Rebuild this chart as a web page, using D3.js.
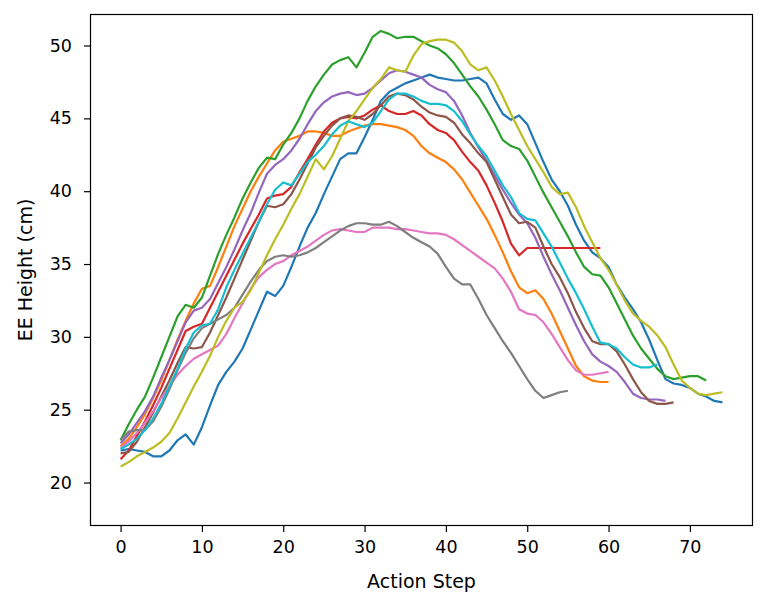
<!DOCTYPE html>
<html><head><meta charset="utf-8">
<script src="https://cdn.jsdelivr.net/npm/d3@7/dist/d3.min.js"></script>
<style>body{margin:0;background:#fff}svg{display:block}text{font-family:"DejaVu Sans",sans-serif;fill:#000}</style>
</head><body>
<script>
const xTicks = [0,10,20,30,40,50,60,70];
const yTicks = [20,25,30,35,40,45,50];
const colors = ["#1f77b4","#ff7f0e","#2ca02c","#d62728","#9467bd","#8c564b","#e377c2","#7f7f7f","#bcbd22","#17becf"];

const blue = [22.2,22.3,22.2,22.1,21.8,21.8,22.2,22.9,23.3,22.6,23.8,25.3,26.7,27.6,28.3,29.2,30.5,31.8,33.1,32.8,33.5,34.8,36.2,37.5,38.5,39.8,41.0,42.2,42.6,42.6,43.7,44.9,46.2,46.8,47.1,47.4,47.6,47.8,48.0,47.8,47.7,47.6,47.6,47.7,47.8,47.4,46.3,45.3,44.9,45.2,44.6,43.3,42.0,40.8,40.0,39.0,37.7,36.6,35.8,35.4,34.8,33.6,32.7,31.9,31.0,29.8,28.4,27.1,26.8,26.7,26.5,26.1,25.9,25.6,25.5];
const orange = [22.5,23.0,23.8,24.7,25.8,27.0,28.4,29.8,31.1,32.3,33.3,33.5,34.8,36.2,37.6,38.8,40.0,41.0,41.9,42.8,43.4,43.6,43.8,44.1,44.1,44.0,43.8,43.8,44.1,44.3,44.5,44.6,44.6,44.5,44.4,44.2,43.8,43.1,42.6,42.3,42.0,41.5,40.8,39.9,39.0,38.1,37.0,35.8,34.5,33.4,33.0,33.2,32.6,31.6,30.4,29.2,28.0,27.3,27.0,26.9,26.9];
const green = [22.9,24.0,25.0,25.9,27.2,28.6,30.0,31.4,32.2,32.0,32.7,34.2,35.7,37.0,38.2,39.5,40.6,41.6,42.3,42.2,43.2,44.0,45.0,46.2,47.2,48.0,48.7,49.0,49.2,48.5,49.5,50.6,51.0,50.8,50.5,50.6,50.6,50.3,50.0,49.8,49.4,48.8,48.0,47.2,46.5,45.6,44.6,43.5,43.1,42.9,42.1,41.0,39.9,38.9,37.9,36.9,35.8,34.8,34.3,34.2,33.4,32.3,31.2,30.1,29.2,28.5,27.8,27.3,27.1,27.2,27.3,27.3,27.0];
const red = [21.6,22.2,23.2,24.2,25.3,26.5,27.8,29.1,30.4,30.7,30.9,32.0,33.1,34.2,35.3,36.4,37.4,38.4,39.5,39.7,39.8,40.3,41.3,42.2,43.2,44.1,44.7,45.0,45.1,45.0,45.2,45.6,45.9,45.5,45.3,45.3,45.5,45.2,44.6,44.2,44.0,43.5,42.7,42.0,41.4,40.4,39.2,37.9,36.4,35.6,36.1,36.1,36.1,36.1,36.1,36.1,36.1,36.1,36.1,36.1];
const purple = [22.7,23.3,24.1,24.9,25.9,27.2,28.4,29.7,31.0,31.8,32.0,32.6,33.7,34.8,36.0,37.3,38.5,39.9,41.2,41.8,42.2,42.8,43.6,44.6,45.5,46.1,46.5,46.7,46.8,46.6,46.7,47.1,47.6,48.1,48.3,48.2,48.0,47.8,47.3,47.0,46.8,46.2,45.2,44.0,43.0,42.1,41.1,40.1,39.2,38.4,37.8,36.8,35.5,34.3,33.2,32.0,30.8,29.7,28.8,28.3,28.0,27.6,26.9,26.1,25.8,25.7,25.7,25.6];
const brown = [22.0,22.1,22.8,23.8,24.8,25.9,27.0,28.2,29.3,29.2,29.3,30.3,31.5,32.7,34.0,35.3,36.6,37.9,39.0,38.9,39.1,39.8,40.8,41.9,43.0,43.8,44.5,45.0,45.2,45.1,44.9,45.3,45.9,46.5,46.7,46.6,46.3,45.8,45.4,45.2,45.1,44.7,43.9,43.3,42.6,42.0,40.8,39.6,38.4,37.8,37.9,37.5,36.2,35.0,34.1,33.0,31.7,30.6,29.7,29.5,29.5,29.0,28.1,27.1,26.2,25.6,25.4,25.4,25.5];
const pink = [22.4,22.8,23.4,24.1,24.9,25.8,26.6,27.4,28.0,28.5,28.8,29.1,29.4,30.2,31.3,32.3,33.3,34.1,34.6,35.0,35.2,35.6,35.9,36.2,36.6,37.0,37.3,37.4,37.3,37.2,37.2,37.5,37.5,37.5,37.4,37.4,37.3,37.2,37.1,37.1,37.0,36.7,36.3,35.9,35.5,35.1,34.7,34.0,33.1,31.9,31.6,31.5,31.0,30.2,29.3,28.4,27.7,27.4,27.4,27.5,27.6];
const gray = [22.9,23.5,23.6,23.6,24.2,25.2,26.4,27.7,28.9,29.9,30.6,30.9,31.2,31.5,32.0,32.9,33.8,34.6,35.2,35.5,35.6,35.5,35.6,35.8,36.1,36.5,36.9,37.3,37.6,37.8,37.8,37.7,37.7,37.9,37.6,37.2,36.8,36.5,36.2,35.7,34.8,34.0,33.6,33.6,32.6,31.5,30.6,29.7,28.9,28.0,27.1,26.3,25.8,26.0,26.2,26.3];
const olive = [21.1,21.4,21.8,22.1,22.4,22.8,23.4,24.4,25.5,26.6,27.6,28.7,30.0,31.1,32.0,32.4,33.2,34.4,35.6,36.7,37.7,38.8,39.8,41.0,42.2,41.5,42.4,43.6,44.8,45.5,46.3,47.1,47.7,48.5,48.3,48.2,49.3,50.1,50.3,50.4,50.4,50.2,49.6,48.7,48.3,48.5,47.6,46.5,45.3,44.2,43.1,42.2,41.3,40.3,39.8,39.9,38.9,37.6,36.5,35.4,34.6,33.6,32.5,31.6,31.1,30.7,30.1,29.3,28.1,27.0,26.5,26.1,26.0,26.1,26.2];
const cyan = [22.3,22.6,23.0,23.6,24.4,25.4,26.6,27.8,29.2,30.3,30.8,30.9,31.9,33.4,34.6,35.7,36.8,37.9,39.1,40.1,40.6,40.4,41.2,42.0,42.5,43.1,43.9,44.5,44.8,44.6,44.4,44.7,45.5,46.3,46.7,46.7,46.5,46.2,46.0,46.0,45.9,45.5,44.8,43.9,43.1,42.4,41.4,40.4,39.6,38.5,38.1,38.0,37.1,36.2,35.1,34.0,33.0,31.9,30.7,29.6,29.5,29.2,28.6,28.1,27.9,27.9,28.1];

const series = [blue,orange,green,red,purple,brown,pink,gray,olive,cyan];

const W=766,H=608;
const L=90.5,R=752.5,T=14.5,B=525.5;
const svg=d3.select("body").append("svg").attr("width",W).attr("height",H);
const x=d3.scaleLinear().domain([-3.7,77.7]).range([L,R]);
const y=d3.scaleLinear().domain([17.05,52.13]).range([B,T]);

const line=d3.line().x((d,i)=>x(i)).y(d=>y(d));
const g=svg.append("g");
series.forEach((s,k)=>{
  g.append("path").datum(s).attr("d",line).attr("fill","none")
   .attr("stroke",colors[k]).attr("stroke-width",2.2)
   .attr("stroke-linejoin","round").attr("stroke-linecap","butt");
});

svg.append("rect").attr("x",L).attr("y",T).attr("width",R-L).attr("height",B-T)
  .attr("fill","none").attr("stroke","#000").attr("stroke-width",1.2);

const xa=svg.append("g").attr("transform",`translate(0,${B})`)
  .call(d3.axisBottom(x).tickValues(xTicks).tickSize(6.5).tickPadding(9));
const ya=svg.append("g").attr("transform",`translate(${L},0)`)
  .call(d3.axisLeft(y).tickValues(yTicks).tickSize(6.5).tickPadding(12));
[xa,ya].forEach(a=>{
  a.select(".domain").remove();
  a.selectAll("line").attr("stroke","#000").attr("stroke-width",1.2);
  a.selectAll("text").style("font-family","'DejaVu Sans',sans-serif").style("font-size","17.5px").attr("fill","#000");
});

svg.append("text").attr("x",(L+R)/2).attr("y",588).attr("text-anchor","middle")
  .style("font-size","19px").text("Action Step");
svg.append("text").attr("transform",`translate(32,${(T+B)/2}) rotate(-90)`).attr("text-anchor","middle")
  .style("font-size","19px").text("EE Height (cm)");
</script>
</body></html>
